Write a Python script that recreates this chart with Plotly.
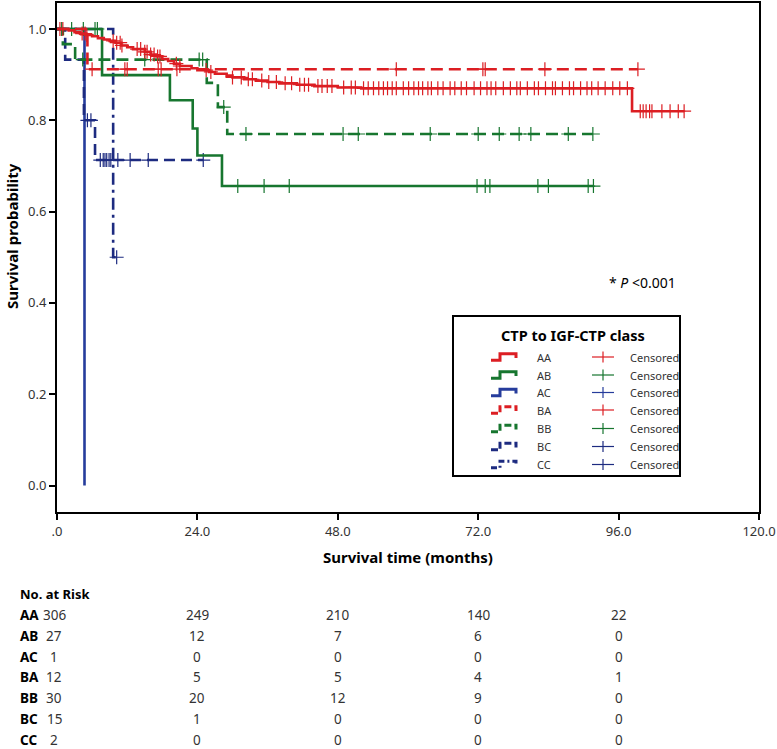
import numpy as np
import plotly.graph_objects as go

# ---------------- data ----------------
groups = ["AA", "AB", "AC", "BA", "BB", "BC", "CC"]

AA_times = [2, 3, 4, 5, 6, 7, 8, 9, 10, 11, 12, 13, 15, 16, 17, 18, 19, 20, 21, 23, 24,
            26, 27, 29, 30, 32, 34, 36, 38, 41, 44, 48, 52, 98.3]
AA_surv = [0.997, 0.993, 0.990, 0.987, 0.984, 0.980, 0.977, 0.974, 0.970, 0.964, 0.960,
           0.956, 0.950, 0.944, 0.940, 0.934, 0.930, 0.924, 0.919, 0.914, 0.910, 0.906,
           0.902, 0.898, 0.894, 0.890, 0.887, 0.884, 0.881, 0.878, 0.875, 0.872, 0.870, 0.820]
AA_end = 107.2
AA_cens = [0.5, 1.0, 4.3, 4.8, 5.1, 9.6, 10.2, 10.8, 11.1, 13.7, 14.3, 15.0, 15.4, 16.0, 16.6,
           17.2, 17.6, 20.4, 21.0, 25.5, 26.3, 30.0, 31.5, 32.7, 33.4, 35.0, 36.2, 37.5, 39.0,
           40.1, 41.5, 42.3, 43.0, 44.6, 45.3, 46.2, 47.0, 49.0, 50.3, 51.0, 52.4, 53.2, 54.1,
           55.0, 55.8, 56.5, 57.3, 58.0, 59.2, 60.1, 61.0, 61.8, 62.5, 63.4, 64.0, 65.1, 66.0,
           67.2, 68.0, 69.1, 70.0, 71.3, 72.4, 73.5, 74.2, 75.0, 76.3, 77.5, 78.6, 79.2, 80.4,
           81.6, 82.3, 83.5, 84.7, 85.2, 86.4, 87.6, 88.3, 89.5, 90.6, 91.4, 92.5, 93.7, 95.0,
           96.2, 97.5, 99.7, 100.2, 100.7, 101.3, 101.7, 103.4, 104.8, 106.2, 107.2]

AB_times = [7.7, 19.3, 23.2, 24.0, 28.2]
AB_surv = [0.899, 0.844, 0.782, 0.723, 0.656]
AB_end = 91.7
AB_cens = [0.8, 2.5, 4.5, 6.5, 6.9, 30.9, 35.4, 39.7, 71.8, 73.2, 74.0, 82.2, 84.0, 90.8, 91.7]

AC_times = [4.7]
AC_surv = [0.0]
AC_end = 4.7
AC_cens = []

BA_times = [5.2]
BA_surv = [0.912]
BA_end = 99.3
BA_cens = [6.0, 11.6, 12.0, 17.3, 17.8, 20.5, 58.0, 72.8, 73.2, 83.4, 99.3]

BB_times = [1.0, 3.1, 25.6, 27.5, 29.1]
BB_surv = [0.967, 0.933, 0.882, 0.829, 0.770]
BB_end = 91.6
BB_cens = [4.4, 15.0, 24.3, 24.9, 28.5, 32.3, 48.9, 51.5, 63.8, 72.0, 75.6, 79.0, 81.0,
           87.4, 91.6]

BC_times = [1.4, 4.6, 6.5]
BC_surv = [0.933, 0.800, 0.713]
BC_end = 25.0
BC_cens = [5.2, 5.8, 7.4, 7.9, 8.2, 8.5, 8.9, 9.2, 10.4, 12.5, 15.6, 25.0]

CC_times = [9.6]
CC_surv = [0.5]
CC_end = 10.2
CC_cens = [10.2]

risk_times = [0, 24, 48, 72, 96]
risk_AA = [306, 249, 210, 140, 22]
risk_AB = [27, 12, 7, 6, 0]
risk_AC = [1, 0, 0, 0, 0]
risk_BA = [12, 5, 5, 4, 1]
risk_BB = [30, 20, 12, 9, 0]
risk_BC = [15, 1, 0, 0, 0]
risk_CC = [2, 0, 0, 0, 0]

x_tickvals = [0, 24, 48, 72, 96, 120]
x_ticktext = [".0", "24.0", "48.0", "72.0", "96.0", "120.0"]
y_tickvals = [0.0, 0.2, 0.4, 0.6, 0.8, 1.0]

# ---------------- styling ----------------
RED = "#dc1e23"
GREEN = "#17762f"
NAVY = "#1d2b80"
BLUE = "#263c9c"
styles = {
    "AA": dict(color=RED, dash="solid", ldash="solid"),
    "AB": dict(color=GREEN, dash="solid", ldash="solid"),
    "AC": dict(color=BLUE, dash="solid", ldash="solid"),
    "BA": dict(color=RED, dash="12px,6px", ldash="7px,3px"),
    "BB": dict(color=GREEN, dash="12px,6px", ldash="7px,3px"),
    "BC": dict(color=NAVY, dash="11px,6px", ldash="7px,3px"),
    "CC": dict(color=NAVY, dash="12px,5px,3px,5px", ldash="6px,3px,2px,3px"),
}

data = {
    "AA": (AA_times, AA_surv, AA_end, AA_cens, risk_AA),
    "AB": (AB_times, AB_surv, AB_end, AB_cens, risk_AB),
    "AC": (AC_times, AC_surv, AC_end, AC_cens, risk_AC),
    "BA": (BA_times, BA_surv, BA_end, BA_cens, risk_BA),
    "BB": (BB_times, BB_surv, BB_end, BB_cens, risk_BB),
    "BC": (BC_times, BC_surv, BC_end, BC_cens, risk_BC),
    "CC": (CC_times, CC_surv, CC_end, CC_cens, risk_CC),
}

W, H = 777, 749
ML, MR, MT, MB = 57, 18, 3, 237
PW, PH = W - ML - MR, H - MT - MB
FONT = "Noto Sans"


def px(xp):
    return (xp - ML) / PW


def py(yp):
    return (H - MB - yp) / PH


def surv_at(times, surv, t):
    idx = np.searchsorted(np.array(times), t, side="right") - 1
    return 1.0 if idx < 0 else surv[idx]


fig = go.Figure()

draw_order = ["AC", "CC", "BC", "BB", "AB", "BA", "AA"]
for g in draw_order:
    times, surv, end, cens, _ = data[g]
    st = styles[g]
    xs = [0] + list(times) + ([end] if end > times[-1] else [])
    ys = [1.0] + list(surv) + ([surv[-1]] if end > times[-1] else [])
    fig.add_trace(go.Scatter(x=xs, y=ys, mode="lines", line_shape="hv",
                             line=dict(color=st["color"], width=2.6, dash=st["dash"]),
                             showlegend=False, hoverinfo="skip"))
    if cens:
        cy = [surv_at(times, surv, t) for t in cens]
        fig.add_trace(go.Scatter(x=cens, y=cy, mode="markers",
                                 marker=dict(symbol="cross-thin", size=10,
                                             line=dict(width=1.2, color=st["color"])),
                                 showlegend=False, hoverinfo="skip"))

shapes = []
annotations = []

# ---------------- legend (manual) ----------------
shapes.append(dict(type="rect", xref="paper", yref="paper",
                   x0=px(453), x1=px(680), y0=py(316), y1=py(476),
                   line=dict(color="black", width=2), fillcolor="white", layer="above"))
annotations.append(dict(xref="paper", yref="paper", x=px(573), y=py(335),
                        text="<b>CTP to IGF-CTP class</b>", showarrow=False,
                        font=dict(family=FONT, size=14.5, color="black"),
                        xanchor="center", yanchor="middle"))
row_y = [357, 375, 392.5, 410, 428.5, 446.5, 464.5]
for g, ry in zip(groups, row_y):
    st = styles[g]
    x0, x1, x2 = px(491), px(500), px(516)
    yb, yt, ym = py(ry + 3.3), py(ry - 3.3), py(ry + 1)
    path = f"M {x0},{yb} L {x1},{yb} L {x1},{yt} L {x2},{yt} L {x2},{ym}"
    shapes.append(dict(type="path", xref="paper", yref="paper", path=path,
                       line=dict(color=st["color"], width=3, dash=st["ldash"]), layer="above"))
    annotations.append(dict(xref="paper", yref="paper", x=px(535), y=py(ry), text=g,
                            showarrow=False, font=dict(family=FONT, size=11, color="#333"),
                            xanchor="left", yanchor="middle"))
    # censored cross
    shapes.append(dict(type="line", xref="paper", yref="paper",
                       x0=px(592), x1=px(614), y0=py(ry), y1=py(ry),
                       line=dict(color=st["color"], width=1.2), layer="above"))
    shapes.append(dict(type="line", xref="paper", yref="paper",
                       x0=px(603), x1=px(603), y0=py(ry - 5.5), y1=py(ry + 5.5),
                       line=dict(color=st["color"], width=1.2), layer="above"))
    annotations.append(dict(xref="paper", yref="paper", x=px(628), y=py(ry), text="Censored",
                            showarrow=False, font=dict(family=FONT, size=11, color="#333"),
                            xanchor="left", yanchor="middle"))

# p-value
annotations.append(dict(xref="paper", yref="paper", x=px(642), y=py(282),
                        text="* <i>P</i> &lt;0.001", showarrow=False,
                        font=dict(family=FONT, size=14, color="black"),
                        xanchor="center", yanchor="middle"))

# axis titles
annotations.append(dict(xref="paper", yref="paper", x=px(408), y=py(557),
                        text="<b>Survival time (months)</b>", showarrow=False,
                        font=dict(family=FONT, size=15, color="black"),
                        xanchor="center", yanchor="middle"))
annotations.append(dict(xref="paper", yref="paper", x=px(12), y=py(236),
                        text="<b>Survival probability</b>", showarrow=False, textangle=-90,
                        font=dict(family=FONT, size=15, color="black"),
                        xanchor="center", yanchor="middle"))

# risk table
annotations.append(dict(xref="paper", yref="paper", x=px(18), y=py(594),
                        text="<b>No. at Risk</b>", showarrow=False,
                        font=dict(family=FONT, size=13, color="black"),
                        xanchor="left", yanchor="middle"))
for i, g in enumerate(groups):
    ry = 615 + 20.8 * i
    annotations.append(dict(xref="paper", yref="paper", x=px(18), y=py(ry),
                            text=f"<b>{g}</b>", showarrow=False,
                            font=dict(family=FONT, size=13.5, color="black"),
                            xanchor="left", yanchor="middle"))
    for t, n in zip(risk_times, data[g][4]):
        annotations.append(dict(xref="x", yref="paper", x=t, y=py(ry), text=str(n),
                                xshift=-3 if t == 0 else 0, showarrow=False,
                                font=dict(family=FONT, size=13.5, color="#333"),
                                xanchor="center", yanchor="middle"))

fig.update_layout(
    width=W, height=H,
    margin=dict(l=ML, r=MR, t=MT, b=MB, pad=0, autoexpand=False),
    plot_bgcolor="white", paper_bgcolor="white",
    font=dict(family=FONT, size=13, color="#333"),
    shapes=shapes, annotations=annotations,
    showlegend=False,
)
fig.update_xaxes(range=[0, 120], tickvals=x_tickvals, ticktext=x_ticktext,
                 showgrid=False, zeroline=False, showline=True, linecolor="black", linewidth=2,
                 mirror=True, ticks="outside", ticklen=6, tickwidth=1.5, tickcolor="black",
                 tickfont=dict(family=FONT, size=13, color="#333"))
fig.update_yaxes(range=[-0.058, 1.057], tickvals=y_tickvals, tickformat=".1f",
                 showgrid=False, zeroline=False, showline=True, linecolor="black", linewidth=2,
                 mirror=True, ticks="outside", ticklen=6, tickwidth=1.5, tickcolor="black",
                 tickfont=dict(family=FONT, size=13, color="#333"))

fig.write_html("out.html", config={"displayModeBar": False},
               post_script="document.body.style.margin='0';document.body.style.overflow='hidden';")
